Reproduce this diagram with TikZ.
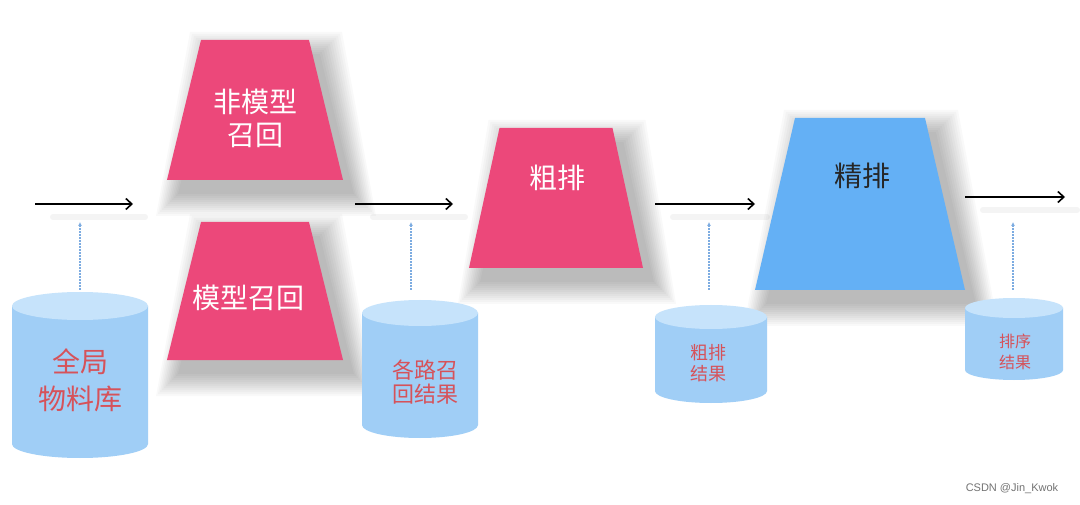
\documentclass[tikz,border=0pt]{standalone}
\usepackage{fontspec}
\newfontfamily\cjk{Noto Sans CJK SC}
\newfontfamily\marque{Liberation Sans}
\usetikzlibrary{arrows.meta}
\definecolor{rose}{RGB}{236,72,122}
\definecolor{bleufort}{RGB}{100,176,245}
\definecolor{cielcorps}{RGB}{160,206,246}
\definecolor{cielhaut}{RGB}{198,227,251}
\definecolor{rougetexte}{RGB}{214,82,90}
\definecolor{pointille}{RGB}{125,172,225}
\newcommand{\taille}[2]{\fontsize{#1}{#2}\selectfont}
% centre x, top y, top width, bottom width, height
\newcommand{\trapeze}[6]{\fill[#6] ({(#1)-(#3)/2},{#2}) -- ({(#1)+(#3)/2},{#2})
 -- ({(#1)+(#4)/2},{(#2)+(#5)}) -- ({(#1)-(#4)/2},{(#2)+(#5)}) -- cycle}
\newcommand{\ombre}[5]{\foreach \k in {0,...,11}
 {\trapeze{#1+11}{#2+14-2*\k}{#3+4*\k}{#4+4*\k}{#5+4*\k}{black, opacity=0.022};}}
% centre x, top y, width, height, ellipse radius, name
\newcommand{\baril}[6]{\fill[cielcorps] ({#1-#3/2},{#2+#5}) -- ({#1-#3/2},{#2+#4-#5})
 arc (180:0:{#3/2} and #5) -- ({#1+#3/2},{#2+#5}) -- cycle;
 \fill[cielhaut] (#1,{#2+#5}) ellipse ({#3/2} and #5);
 \coordinate (#6) at (#1,#2)}
\newcommand{\reflet}[2]{\draw[line width=6pt, black, opacity=0.045, line cap=round]
 ([shift={(18,13)}]#1) -- ([shift={(12,13)}]#2)}

\tikzset{
 blanc/.style={text=white, align=center, font=\cjk\taille{28}{33}},
 rouge/.style={text=rougetexte, align=center},
 flux/.style={line width=1.6pt, -{Straight Barb[length=6pt,width=11pt]}},
 remontee/.style={pointille, dash pattern=on 1.5pt off 1.5pt, line width=1.1pt,
  -{Latex[length=4pt,width=4pt]}}
}

\begin{document}
\begin{tikzpicture}[x=1pt, y=-1pt]
\useasboundingbox[fill=white] (0,0) rectangle (1080,505);
%The shadows
	\ombre{255}{40}{108}{176}{140};
	\ombre{255}{222}{108}{176}{138};
	\ombre{556}{128}{113}{174}{140};
	\ombre{860}{118}{130}{210}{172};
%The funnels
	\trapeze{255}{40}{108}{176}{140}{rose};
	\trapeze{255}{222}{108}{176}{138}{rose};
	\trapeze{556}{128}{113}{174}{140}{rose};
	\trapeze{860}{118}{130}{210}{172}{bleufort};
	\node[blanc] (tnonmod) at (255,118) {非模型\\召回};
	\node[blanc] (tmod) at (248,298) {模型召回};
	\node[blanc] (tgrossier) at (557,178) {粗排};
	\node[blanc, text=black!85] (tfin) at (862,176) {精排};
%The flow
	\coordinate (e1) at (35,204);   \coordinate (s1) at (133,204);
	\coordinate (e2) at (355,204);  \coordinate (s2) at (453,204);
	\coordinate (e3) at (655,204);  \coordinate (s3) at (755,204);
	\coordinate (e4) at (965,197);  \coordinate (s4) at (1065,197);
	\reflet{e1}{s1};
	\reflet{e2}{s2};
	\reflet{e3}{s3};
	\reflet{e4}{s4};
	\draw[flux] (e1) -- (s1);
	\draw[flux] (e2) -- (s2);
	\draw[flux] (e3) -- (s3);
	\draw[flux] (e4) -- (s4);
%The stores
	\baril{80}{292}{136}{166}{14}{global};
	\baril{420}{300}{116}{138}{13}{rappel};
	\baril{711}{305}{112}{98}{12}{rgros};
	\baril{1014}{298}{98}{82}{10}{rfin};
	\node[rouge, font=\cjk\taille{28}{37}] (tglobal) at (80,380) {全局\\物料库};
	\node[rouge, font=\cjk\taille{22}{24}] (trappel) at (425,382) {各路召\\回结果};
	\node[rouge, font=\cjk\taille{18}{21}] (trgros) at (708,363) {粗排\\结果};
	\node[rouge, font=\cjk\taille{16}{21}] (trfin) at (1015,352) {排序\\结果};
	\coordinate (h1) at (80,222);
	\coordinate (h2) at (411,222);
	\coordinate (h3) at (709,222);
	\coordinate (h4) at (1013,222);
	\draw[remontee, shorten <=2pt] (global -| h1) -- (h1);
	\draw[remontee, shorten <=10pt] (rappel -| h2) -- (h2);
	\draw[remontee, shorten <=15pt] (rgros -| h3) -- (h3);
	\draw[remontee, shorten <=8pt] (rfin -| h4) -- (h4);
	\node[text=black!55, font=\marque\taille{11}{13}] (marque) at (1012,489) {CSDN @Jin\_Kwok};
\end{tikzpicture}
\end{document}
